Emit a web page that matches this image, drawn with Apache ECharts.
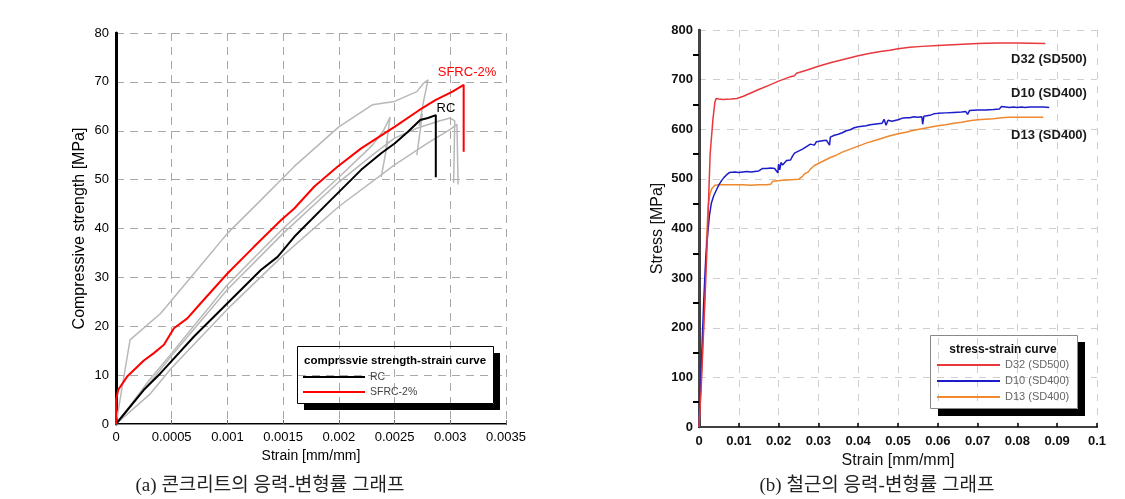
<!DOCTYPE html>
<html>
<head>
<meta charset="utf-8">
<script src="https://cdn.jsdelivr.net/npm/echarts@6/dist/echarts.min.js"></script>
<style>
html,body{margin:0;padding:0;background:#fff;}
#chart{width:1125px;height:499px;}
</style>
</head>
<body>
<div id="chart"></div>
<script>
// ---------- (a) concrete: compressive strength [MPa] vs strain ----------
const rcCurve = [[0,0],[0.00025,7],[0.0004,10.4],[0.0007,17.9],[0.001,24.7],[0.0013,31.5],[0.00145,34.2],[0.0016,38.3],[0.0019,45.2],[0.0022,52],[0.00238,55.4],[0.0025,57.4],[0.00262,59.8],[0.00273,62.2],[0.0028,62.6],[0.00287,63.2],[0.00287,50.5]];
const sfrcCurve = [[0,0],[0,4.9],[0.00002,7],[0.0001,9.7],[0.00025,13],[0.00034,14.5],[0.00043,16.2],[0.00052,19.6],[0.00064,21.6],[0.00076,24.7],[0.001,30.8],[0.00124,36.3],[0.00148,41.7],[0.0016,44.1],[0.00178,48.6],[0.00199,52.7],[0.0022,56.4],[0.0025,60.8],[0.00272,64.2],[0.00287,66.3],[0.00302,68],[0.00312,69.4],[0.00312,55.7]];
const specimen1 = [[0,0],[0.000126,17.2],[0.0004,22.6],[0.0007,30.8],[0.001,39],[0.0013,45.8],[0.0016,52.7],[0.002,60.8],[0.0023,65.3],[0.0025,66],[0.0027,68],[0.00276,69.7],[0.0028,70.4],[0.00276,66],[0.00272,61],[0.00275,63.5],[0.0027,55]];
const specimen2 = [[0,0],[0.0001,3],[0.0003,9],[0.0005,14.5],[0.001,28.5],[0.0015,40],[0.002,50.5],[0.0023,57],[0.0024,60],[0.00246,62.8],[0.00242,56],[0.00244,58],[0.00238,50.5]];
const specimen3 = [[0,0],[0.0002,5.5],[0.0005,14],[0.001,27.5],[0.0015,39],[0.002,49.5],[0.0023,55],[0.0025,58.5],[0.0027,60.5],[0.0029,62],[0.003,62.6],[0.00304,62],[0.00303,49.3]];
const specimen4 = [[0,0],[0.0003,6],[0.0005,11.5],[0.001,23.5],[0.0015,34.5],[0.002,44.5],[0.0025,53],[0.0028,57.5],[0.003,60.3],[0.00306,61.3],[0.00307,49]];

// ---------- (b) rebar: stress [MPa] vs strain ----------
const d32Curve = [[0,0],[0.0005,70],[0.001,165],[0.0015,256],[0.002,360],[0.0025,480],[0.0028,550],[0.0035,620],[0.004,655],[0.0043,662],[0.005,661],[0.006,660],[0.008,661],[0.0095,662],[0.011,666],[0.013,673],[0.015,680],[0.018,690],[0.02,697],[0.023,706],[0.024,708],[0.0245,713],[0.027,719],[0.03,727],[0.033,734],[0.036,740],[0.04,748],[0.043,753],[0.046,757],[0.048,759],[0.05,762],[0.053,765],[0.056,767],[0.06,769],[0.065,771],[0.07,773],[0.075,774],[0.08,774],[0.087,773]];
const d10Curve = [[0,0],[0.0006,130],[0.0012,256],[0.0017,340],[0.0022,390],[0.0026,425],[0.0031,451],[0.0037,466],[0.0044,478],[0.005,488],[0.0057,497],[0.0063,503],[0.0069,508],[0.0077,513],[0.009,514],[0.01,513],[0.011,514],[0.012,515],[0.013,514],[0.014,515],[0.015,516],[0.0155,519],[0.016,521],[0.017,521],[0.018,522],[0.019,521],[0.0195,524],[0.0198,512],[0.02,530],[0.0203,518],[0.0206,533],[0.021,528],[0.0215,532],[0.022,537],[0.0225,540],[0.023,538],[0.0235,546],[0.024,552],[0.0245,549],[0.025,556],[0.0255,553],[0.026,560],[0.0265,558],[0.027,565],[0.0275,563],[0.028,570],[0.0285,572],[0.029,568],[0.0295,575],[0.03,574],[0.031,577],[0.0315,573],[0.032,578],[0.0325,580],[0.0328,568],[0.033,584],[0.034,588],[0.035,590],[0.036,593],[0.037,597],[0.038,599],[0.039,603],[0.04,605],[0.041,606],[0.042,607],[0.043,609],[0.044,610],[0.045,611],[0.046,612],[0.0465,620],[0.047,608],[0.0475,618],[0.048,614],[0.0485,616],[0.049,618],[0.05,619],[0.051,622],[0.052,623],[0.053,623],[0.054,625],[0.055,624],[0.056,625],[0.0562,610],[0.0565,626],[0.057,627],[0.058,628],[0.0585,624],[0.059,631],[0.06,632],[0.062,633],[0.064,634],[0.066,635],[0.067,636],[0.0675,630],[0.068,638],[0.07,639],[0.072,639],[0.074,640],[0.0755,641],[0.076,646],[0.077,645],[0.078,644],[0.0785,640],[0.079,645],[0.08,644],[0.0805,640],[0.081,645],[0.082,644],[0.083,645],[0.085,645],[0.0865,645],[0.088,644]];
const d13Curve = [[0,0],[0.0007,120],[0.0014,256],[0.0019,380],[0.0023,445],[0.0027,468],[0.0032,480],[0.004,487],[0.005,488],[0.007,488],[0.009,488],[0.011,488],[0.013,487],[0.015,488],[0.017,488],[0.018,489],[0.0185,495],[0.019,496],[0.021,497],[0.023,498],[0.025,499],[0.0255,500],[0.026,505],[0.0265,510],[0.027,508],[0.0275,514],[0.028,520],[0.0285,523],[0.029,527],[0.03,531],[0.031,535],[0.032,539],[0.033,543],[0.034,546],[0.035,550],[0.036,554],[0.037,557],[0.038,560],[0.039,563],[0.04,566],[0.042,572],[0.044,577],[0.046,582],[0.048,587],[0.05,591],[0.052,594],[0.054,598],[0.056,601],[0.058,604],[0.06,607],[0.062,609],[0.064,612],[0.066,614],[0.068,617],[0.07,619],[0.072,620],[0.074,621],[0.076,623],[0.078,624],[0.08,624],[0.083,624],[0.0865,624]];

const legendA = ['RC', 'SFRC-2%'];
const legendB = ['D32 (SD500)', 'D10 (SD400)', 'D13 (SD400)'];
const captionA = '(a) 콘크리트의 응력-변형률 그래프';
const captionB = '(b) 철근의 응력-변형률 그래프';

const FONT = "'Liberation Sans', Arial, sans-serif";
const chart = echarts.init(document.getElementById('chart'), null, {renderer: 'canvas'});

function line(name, data, color, width, xi, yi, z) {
  return {
    name, type: 'line', data, xAxisIndex: xi, yAxisIndex: yi,
    showSymbol: false, symbol: 'none', smooth: false, z: z || 2,
    lineStyle: {color, width}, itemStyle: {color}, emphasis: {disabled: true},
    animation: false
  };
}
const GRAY = '#b8b8b8';

const option = {
  animation: false,
  textStyle: {fontFamily: FONT},
  grid: [
    {left: 116, top: 33, width: 390, height: 391},
    {left: 699, top: 30, width: 398, height: 397}
  ],
  xAxis: [
    {gridIndex: 0, type: 'value', min: 0, max: 0.0035, interval: 0.0005,
     name: 'Strain [mm/mm]', nameLocation: 'middle', nameGap: 21,
     nameTextStyle: {fontSize: 14, color: '#000', fontFamily: FONT},
     axisLine: {lineStyle: {color: '#000', width: 2}},
     axisTick: {show: true, inside: true, length: 4, lineStyle: {color: '#666'}},
     axisLabel: {fontSize: 13, color: '#000', margin: 7, fontFamily: FONT,
       formatter: v => String(+v.toFixed(4))},
     splitLine: {show: true, lineStyle: {color: '#a8a8a8', type: [8, 6], width: 1}}},
    {gridIndex: 1, type: 'value', min: 0, max: 0.1, interval: 0.01,
     name: 'Strain [mm/mm]', nameLocation: 'middle', nameGap: 24,
     nameTextStyle: {fontSize: 16, color: '#111', fontFamily: FONT},
     axisLine: {lineStyle: {color: '#000', width: 2}},
     axisTick: {show: true, inside: true, length: 4, lineStyle: {color: '#000', width: 1.5}},
     axisLabel: {fontSize: 13, color: '#111', margin: 8, fontFamily: FONT, fontWeight: 'bold',
       formatter: v => String(+v.toFixed(2))},
     splitLine: {show: true, lineStyle: {color: '#cfcfcf', type: [7, 7], width: 1}}},
    {gridIndex: 0, type: 'value', position: 'top', min: 0, max: 1,
     axisLine: {show: true, lineStyle: {color: '#888', width: 1}},
     axisTick: {show: false}, axisLabel: {show: false}, splitLine: {show: false}},
    {gridIndex: 1, type: 'value', position: 'top', min: 0, max: 1,
     axisLine: {show: true, lineStyle: {color: '#555', width: 1.5}},
     axisTick: {show: false}, axisLabel: {show: false}, splitLine: {show: false}}
  ],
  yAxis: [
    {gridIndex: 0, type: 'value', min: 0, max: 80, interval: 10,
     name: 'Compressive strength [MPa]', nameLocation: 'middle', nameGap: 28, nameRotate: 90,
     nameTextStyle: {fontSize: 16, color: '#000', fontFamily: FONT},
     axisLine: {show: true, lineStyle: {color: '#000', width: 2}},
     axisTick: {show: false},
     axisLabel: {fontSize: 13, color: '#000', margin: 7, fontFamily: FONT},
     splitLine: {show: true, lineStyle: {color: '#a8a8a8', type: [8, 6], width: 1}}},
    {gridIndex: 1, type: 'value', min: 0, max: 800, interval: 100,
     name: 'Stress [MPa]', nameLocation: 'middle', nameGap: 33, nameRotate: 90,
     nameTextStyle: {fontSize: 16, color: '#111', fontFamily: FONT},
     axisLine: {show: true, lineStyle: {color: '#000', width: 2.5}},
     axisTick: {show: false},
     minorTick: {show: true, splitNumber: 2, length: 6, lineStyle: {color: '#000', width: 2}},
     axisLabel: {fontSize: 13, color: '#111', margin: 6, fontFamily: FONT, fontWeight: 'bold'},
     splitLine: {show: true, lineStyle: {color: '#cfcfcf', type: [7, 7], width: 1}}},
    {gridIndex: 0, type: 'value', position: 'right', min: 0, max: 1,
     axisLine: {show: true, lineStyle: {color: '#000', width: 3}},
     axisTick: {show: false}, axisLabel: {show: false}, splitLine: {show: false}},
    {gridIndex: 1, type: 'value', position: 'right', min: 0, max: 1,
     axisLine: {show: true, lineStyle: {color: '#444', width: 2}},
     axisTick: {show: false}, axisLabel: {show: false}, splitLine: {show: false}}
  ],
  legend: [
    {data: legendA, orient: 'vertical', left: 303, top: 369.5, padding: 0, itemGap: 0,
     itemWidth: 62, itemHeight: 2, icon: 'rect', selectedMode: false,
     textStyle: {fontSize: 10.5, color: '#444', lineHeight: 15, fontFamily: FONT}},
    {data: legendB, orient: 'vertical', left: 937, top: 357, padding: 0, itemGap: 0,
     itemWidth: 63, itemHeight: 2, icon: 'rect', selectedMode: false,
     textStyle: {fontSize: 11, color: '#666', lineHeight: 16, fontFamily: FONT}}
  ],
  series: [
    line('specimen 1', specimen1, GRAY, 1.5, 0, 0),
    line('specimen 2', specimen2, GRAY, 1.5, 0, 0),
    line('specimen 3', specimen3, GRAY, 1.5, 0, 0),
    line('specimen 4', specimen4, GRAY, 1.5, 0, 0),
    line('RC', rcCurve, '#000000', 2, 0, 0, 3),
    line('SFRC-2%', sfrcCurve, '#ff0000', 2, 0, 0, 4),
    line('D13 (SD400)', d13Curve, '#f0882e', 1.5, 1, 1),
    line('D10 (SD400)', d10Curve, '#1c1cc8', 1.5, 1, 1, 3),
    line('D32 (SD500)', d32Curve, '#e8383d', 1.5, 1, 1, 4)
  ],
  graphic: [
    // legend frames (transparent box with black offset shadow)
    {type: 'rect', shape: {x: 297.5, y: 346.5, width: 196, height: 57}, style: {fill: 'none', stroke: '#000', lineWidth: 1}, z: 10},
    {type: 'rect', shape: {x: 494, y: 353, width: 6, height: 57}, style: {fill: '#000'}, z: 10},
    {type: 'rect', shape: {x: 304, y: 404, width: 196, height: 6}, style: {fill: '#000'}, z: 10},
    {type: 'text', x: 304, y: 361, style: {text: 'comprssvie strength-strain curve', font: 'bold 11.5px ' + FONT, fill: '#000', verticalAlign: 'middle'}, z: 11},

    {type: 'rect', shape: {x: 930.5, y: 335.5, width: 147, height: 73}, style: {fill: 'none', stroke: '#888', lineWidth: 1}, z: 10},
    {type: 'rect', shape: {x: 1078, y: 342, width: 7, height: 74}, style: {fill: '#000'}, z: 10},
    {type: 'rect', shape: {x: 938, y: 409, width: 147, height: 7}, style: {fill: '#000'}, z: 10},
    {type: 'text', x: 1003, y: 350, style: {text: 'stress-strain curve', font: 'bold 12px ' + FONT, fill: '#111', align: 'center', verticalAlign: 'middle'}, z: 11},

    // curve annotations
    {type: 'text', x: 467, y: 72, style: {text: 'SFRC-2%', font: '13px ' + FONT, fill: '#ff0000', align: 'center', verticalAlign: 'middle'}, z: 11},
    {type: 'text', x: 446, y: 108, style: {text: 'RC', font: '13px ' + FONT, fill: '#000', align: 'center', verticalAlign: 'middle'}, z: 11},
    {type: 'text', x: 1049, y: 59, style: {text: 'D32 (SD500)', font: 'bold 13px ' + FONT, fill: '#1a1a1a', align: 'center', verticalAlign: 'middle'}, z: 11},
    {type: 'text', x: 1049, y: 93, style: {text: 'D10 (SD400)', font: 'bold 13px ' + FONT, fill: '#1a1a1a', align: 'center', verticalAlign: 'middle'}, z: 11},
    {type: 'text', x: 1049, y: 135, style: {text: 'D13 (SD400)', font: 'bold 13px ' + FONT, fill: '#1a1a1a', align: 'center', verticalAlign: 'middle'}, z: 11},

    // captions
    {type: 'text', x: 270, y: 486, style: {text: captionA, font: "19px 'Liberation Serif', 'Noto Sans CJK KR', serif", fill: '#222', align: 'center', verticalAlign: 'middle'}, z: 11},
    {type: 'text', x: 877, y: 486, style: {text: captionB, font: "19px 'Liberation Serif', 'Noto Sans CJK KR', serif", fill: '#222', align: 'center', verticalAlign: 'middle'}, z: 11}
  ]
};
chart.setOption(option);
</script>
</body>
</html>
